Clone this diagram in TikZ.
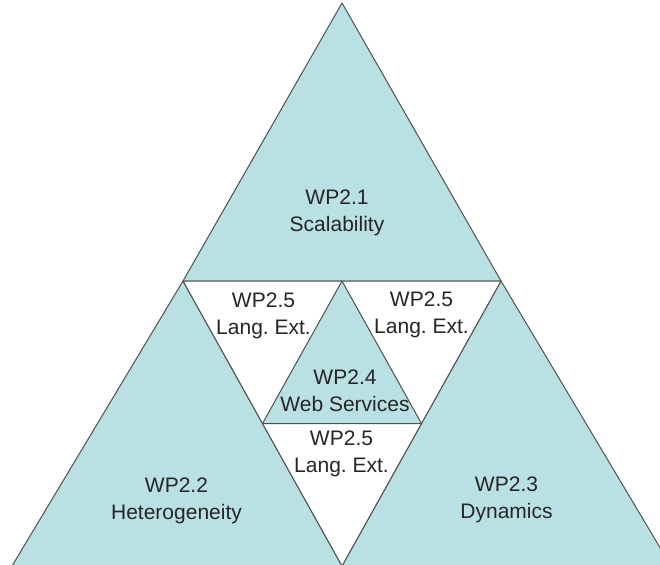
\documentclass[tikz,border=0pt]{standalone}
\usepackage{fontspec}
\setmainfont{Liberation Sans}
\usetikzlibrary{calc}
\definecolor{wpblue}{RGB}{185,224,227}
\definecolor{wpline}{RGB}{80,80,80}

\begin{document}
\begin{tikzpicture}[x=1pt,y=-1pt,
    wp/.style={fill=wpblue,draw=wpline,line width=1pt,line join=round},
    hole/.style={fill=white,draw=wpline,line width=1pt,line join=round},
    lbl/.style={align=center,font=\fontsize{21}{27}\selectfont\frenchspacing,anchor=base,inner sep=0pt,text=black!85}]
    \useasboundingbox (0,0) rectangle (660,564);
    \clip (0,0) rectangle (660,564);

    % Corners
    \coordinate (top) at (342,3);
    \coordinate (ml) at (183,281);
    \coordinate (mr) at (501,281);
    \coordinate (bl) at (12,566);
    \coordinate (bm) at (342,566);
    \coordinate (br) at (671,566);

    % Outer triangles
    \draw[wp] (top) -- (ml) -- (mr) -- cycle;
    \draw[wp] (ml) -- (bl) -- (bm) -- cycle;
    \draw[wp] (mr) -- (bm) -- (br) -- cycle;

    % Middle part
    \draw[hole] (ml) -- (mr) -- (bm) -- cycle;
    \draw[wp] ($(ml)!0.5!(mr)$) -- ($(mr)!0.5!(bm)$) -- ($(ml)!0.5!(bm)$) -- cycle;

    % Labels (anchored at the second line)
    \node[lbl] (wp1) at (337,231) {WP2.1\\Scalability};
    \node[lbl] (wp2) at (176.5,519) {WP2.2\\Heterogeneity};
    \node[lbl] (wp3) at (506.5,518) {WP2.3\\Dynamics};
    \node[lbl] (wp4) at (345,411) {WP2.4\\Web Services};
    \node[lbl] (wp5l) at (263.5,334) {WP2.5\\Lang. Ext.};
    \node[lbl] (wp5r) at (421.5,333) {WP2.5\\Lang. Ext.};
    \node[lbl] (wp5b) at (341.5,472) {WP2.5\\Lang. Ext.};
\end{tikzpicture}
\end{document}
